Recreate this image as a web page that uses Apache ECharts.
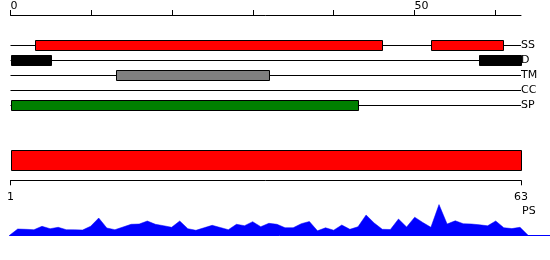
<!DOCTYPE html>
<html>
<head>
<meta charset="utf-8">
<script src="https://cdn.jsdelivr.net/npm/echarts@6/dist/echarts.min.js"></script>
<style>html,body{margin:0;padding:0;background:#fff}#c{width:550px;height:260px}</style>
</head>
<body>
<div id="c"></div>
<script>
// ---- data ----
var seqLength = 63;
var topTicks = [0, 10, 20, 30, 40, 50, 60];
var topTickLabels = [0, 50];
var trackNames = ['SS', 'D', 'TM', 'CC', 'SP'];
var trackColors = ['#ff0000', '#000000', '#808080', '#000000', '#008000'];
var ssFeatures = [[3, 46], [52, 61]];
var dFeatures = [[0, 5], [58, 63.2]];
var tmFeatures = [[13, 32]];
var ccFeatures = [];
var spFeatures = [[0, 43]];
var domainFeatures = [[1, 63]];
var bottomTicks = [1, 63];
var psValues = [0,
  6.3, 6.0, 5.6, 9.0, 6.6, 8.0, 5.6, 5.5, 5.3, 9.0,
  17.3, 7.3, 5.6, 8.3, 11.0, 11.3, 14.3, 11.0, 9.6, 8.0,
  14.3, 6.6, 5.0, 7.5, 10.0, 7.8, 5.6, 11.0, 9.6, 13.6,
  8.6, 12.0, 11.0, 7.6, 7.6, 11.6, 13.8, 4.5, 7.5, 5.1,
  10.3, 6.0, 8.5, 20.3, 12.3, 6.0, 5.8, 16.3, 8.3, 18.1,
  12.8, 8.0, 30.7, 11.3, 14.5, 11.6, 11.3, 10.5, 9.5, 14.3,
  7.6, 6.7, 8.0,
  0];

// ---- build ----
var FONT = 'DejaVu Sans';
var topMax = 63.2;
var trackFeatureLists = [ssFeatures, dFeatures, tmFeatures, ccFeatures, spFeatures];
var trackData = [];
trackFeatureLists.forEach(function (list, t) {
  list.forEach(function (f) { trackData.push([f[0], f[1], t]); });
});
var domainData = domainFeatures.map(function (f) { return [f[0], f[1]]; });
var psData = psValues.map(function (v, i) { return [i, v]; });

var chart = echarts.init(document.getElementById('c'), null, {renderer: 'canvas'});
chart.setOption({
  animation: false,
  backgroundColor: '#ffffff',
  textStyle: {fontFamily: FONT},
  grid: [
    {left: 10.5, right: 29, top: 45, height: 60},
    {left: 10.5, right: 29, top: 140.3, height: 40},
    {left: 9.6, right: 0, top: 200, bottom: 24.7},
    {left: 10.5, right: 29, top: 15, height: 20}
  ],
  xAxis: [
    {
      gridIndex: 0, type: 'value', min: 0, max: topMax, show: false
    },
    {
      gridIndex: 1, type: 'value', min: 1, max: seqLength, position: 'bottom',
      axisLine: {show: true, lineStyle: {color: '#000', width: 1}},
      axisTick: {show: true, length: 5, customValues: bottomTicks, lineStyle: {color: '#000'}},
      axisLabel: {show: true, customValues: bottomTicks, fontSize: 11, fontFamily: FONT,
        color: '#000', margin: 11},
      splitLine: {show: false}
    },
    {
      gridIndex: 2, type: 'value', min: 0, max: 66.7,
      axisLine: {show: true, onZero: false, lineStyle: {color: '#0000ff', width: 1}},
      axisTick: {show: false}, axisLabel: {show: false}, splitLine: {show: false}
    },
    {
      gridIndex: 3, type: 'value', min: 0, max: topMax, position: 'top',
      axisLine: {show: true, onZero: false, lineStyle: {color: '#000', width: 1}},
      axisTick: {show: true, length: 5, customValues: topTicks, lineStyle: {color: '#000'}},
      axisLabel: {show: true, customValues: topTickLabels, align: 'left', fontSize: 11,
        fontFamily: FONT, color: '#000', margin: 3},
      splitLine: {show: false}
    }
  ],
  yAxis: [
    {
      gridIndex: 0, type: 'value', min: 0, max: trackNames.length - 1, interval: 1,
      inverse: true, position: 'right',
      axisLine: {show: false}, axisTick: {show: false},
      axisLabel: {show: true, margin: 0, fontSize: 11, fontFamily: FONT, color: '#000',
        formatter: function (v) { return trackNames[v] || ''; }},
      splitLine: {show: true, lineStyle: {color: '#000', width: 1}}
    },
    {gridIndex: 1, type: 'value', min: 0, max: 4, show: false},
    {gridIndex: 2, type: 'value', min: 0, max: 35.3, show: false},
    {gridIndex: 3, type: 'value', min: 0, max: 1, show: false}
  ],
  graphic: [
    {type: 'text', left: 522, top: 205.5,
      style: {text: 'PS', font: '11px "DejaVu Sans"', fill: '#000'}}
  ],
  series: [
    {
      type: 'custom', xAxisIndex: 0, yAxisIndex: 0, data: trackData,
      renderItem: function (params, api) {
        var p1 = api.coord([api.value(0), api.value(2)]);
        var p2 = api.coord([api.value(1), api.value(2)]);
        return {type: 'rect',
          shape: {x: Math.round(p1[0]) + 0.5, y: Math.round(p1[1]) - 4.5,
            width: Math.round(p2[0]) - Math.round(p1[0]), height: 10},
          style: {fill: trackColors[api.value(2)], stroke: '#000', lineWidth: 1}};
      }
    },
    {
      type: 'custom', xAxisIndex: 1, yAxisIndex: 1, data: domainData,
      renderItem: function (params, api) {
        var p1 = api.coord([api.value(0), 3]);
        var p2 = api.coord([api.value(1), 1]);
        return {type: 'rect',
          shape: {x: Math.round(p1[0]) + 0.5, y: Math.round(p1[1]) + 0.5,
            width: Math.round(p2[0]) - Math.round(p1[0]), height: Math.round(p2[1]) - Math.round(p1[1])},
          style: {fill: '#ff0000', stroke: '#000', lineWidth: 1}};
      }
    },
    {
      type: 'line', xAxisIndex: 2, yAxisIndex: 2, data: psData,
      symbol: 'none', smooth: false,
      lineStyle: {color: '#0000ff', width: 0.5},
      areaStyle: {color: '#0000ff', opacity: 1}
    }
  ]
});
</script>
</body>
</html>
